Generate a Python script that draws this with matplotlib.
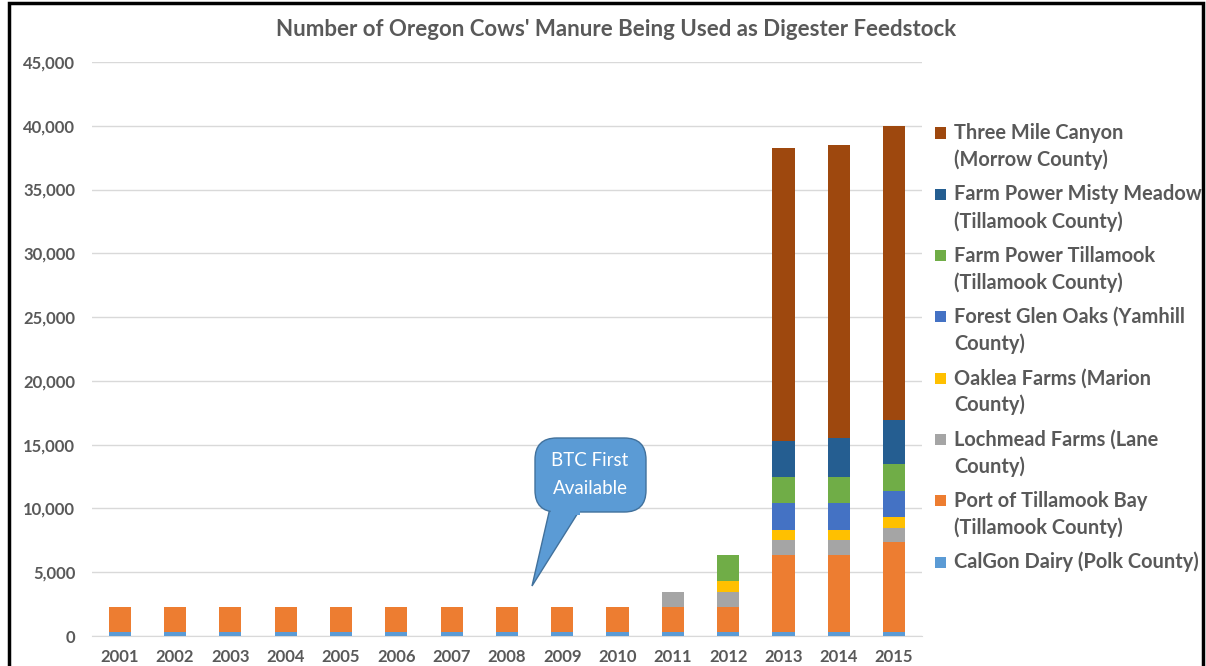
import matplotlib
matplotlib.use("Agg")
import matplotlib.pyplot as plt
from matplotlib.patches import FancyBboxPatch, Polygon, Rectangle
from matplotlib.ticker import FuncFormatter
import numpy as np

plt.rcParams['font.family'] = ['Lato', 'DejaVu Sans']

years = ['2001', '2002', '2003', '2004', '2005', '2006', '2007', '2008',
         '2009', '2010', '2011', '2012', '2013', '2014', '2015']

# cows per digester, bottom of stack first
calgon     = [350, 350, 350, 350, 350, 350, 350, 350, 350, 350, 350, 350, 350, 350, 350]
port       = [1950, 1950, 1950, 1950, 1950, 1950, 1950, 1950, 1950, 1950, 1950, 1950, 6000, 6000, 7000]
lochmead   = [0, 0, 0, 0, 0, 0, 0, 0, 0, 0, 1150, 1150, 1150, 1150, 1150]
oaklea     = [0, 0, 0, 0, 0, 0, 0, 0, 0, 0, 0, 830, 830, 830, 830]
forest     = [0, 0, 0, 0, 0, 0, 0, 0, 0, 0, 0, 0, 2070, 2070, 2070]
fp_till    = [0, 0, 0, 0, 0, 0, 0, 0, 0, 0, 0, 2080, 2080, 2080, 2080]
misty      = [0, 0, 0, 0, 0, 0, 0, 0, 0, 0, 0, 0, 2810, 3020, 3440]
three_mile = [0, 0, 0, 0, 0, 0, 0, 0, 0, 0, 0, 0, 22990, 22970, 23050]

series = [
    ("CalGon Dairy (Polk County)", calgon, "#5B9BD5"),
    ("Port of Tillamook Bay\n(Tillamook County)", port, "#ED7D31"),
    ("Lochmead Farms (Lane\nCounty)", lochmead, "#A5A5A5"),
    ("Oaklea Farms (Marion\nCounty)", oaklea, "#FFC000"),
    ("Forest Glen Oaks (Yamhill\nCounty)", forest, "#4472C4"),
    ("Farm Power Tillamook\n(Tillamook County)", fp_till, "#70AD47"),
    ("Farm Power Misty Meadow\n(Tillamook County)", misty, "#255E91"),
    ("Three Mile Canyon\n(Morrow County)", three_mile, "#9E480E"),
]

grey = "#595959"
W, H = 1206, 666

def fp(px, py):
    # figure fraction from pixel position (top-left origin)
    return (px / W, 1 - py / H)

fig = plt.figure(figsize=(W / 100, H / 100), dpi=100)
ax = fig.add_axes([0.0763, 0.045, 0.688, 0.862])

x = np.arange(len(years))
bottom = np.zeros(len(years))
for label, vals, color in series:
    vals = np.array(vals, dtype=float)
    ax.bar(x, vals, bottom=bottom, width=0.4, color=color, label=label, zorder=3)
    bottom += vals

ax.set_xlim(-0.5, len(years) - 0.5)
ax.set_ylim(0, 45000)
ax.set_yticks(np.arange(0, 45001, 5000))
ax.yaxis.set_major_formatter(FuncFormatter(lambda v, p: f"{int(v):,}"))
ax.set_xticks(x)
ax.set_xticklabels(years)
ax.grid(axis='y', color='#D9D9D9', linewidth=1, zorder=0)
for s in ['top', 'right', 'left']:
    ax.spines[s].set_visible(False)
ax.spines['bottom'].set_color('#D9D9D9')
ax.tick_params(axis='both', length=0, labelcolor=grey, labelsize=12)
ax.tick_params(axis='y', pad=12)
ax.tick_params(axis='x', pad=9)
for t in ax.get_xticklabels() + ax.get_yticklabels():
    t.set_fontweight('bold')

fig.text(*fp(616, 30), "Number of Oregon Cows' Manure Being Used as Digester Feedstock",
         ha='center', va='center', fontsize=16, fontweight='bold', color=grey)

# legend, top entry = top of stack
entry_y = 133
for label, vals, color in series[::-1]:
    sx, sy = fp(935, entry_y + 5.5)
    fig.add_artist(Rectangle((sx, sy), 11 / W, 11 / H, transform=fig.transFigure,
                             facecolor=color, edgecolor='none'))
    for i, line in enumerate(label.split("\n")):
        fig.text(*fp(954, entry_y + 27 * i), line, ha='left', va='center',
                 fontsize=14.4, fontweight='bold', color=grey)
    entry_y += 61.3

# callout "BTC First Available"
tail = Polygon([fp(550, 508), fp(532, 586), fp(581, 508)], closed=True,
               transform=fig.transFigure, facecolor="#5B9BD5", edgecolor="#41719C",
               linewidth=1, zorder=5)
fig.add_artist(tail)
bx0, by0 = fp(535, 512)
bx1, by1 = fp(646, 438)
box = FancyBboxPatch((bx0, by0), bx1 - bx0, by1 - by0,
                     boxstyle="round,pad=0,rounding_size=0.018",
                     transform=fig.transFigure, facecolor="#5B9BD5",
                     edgecolor="#41719C", linewidth=1, zorder=6,
                     mutation_aspect=W / H)
fig.add_artist(box)
seam = Polygon([fp(551, 510), fp(550, 515), fp(580, 515), fp(580, 510)], closed=True,
               transform=fig.transFigure, facecolor="#5B9BD5", edgecolor='none', zorder=7)
fig.add_artist(seam)
fig.text(*fp(590, 461), "BTC First", ha='center', va='center',
         color='white', fontsize=13.5, zorder=8)
fig.text(*fp(590, 488), "Available", ha='center', va='center',
         color='white', fontsize=13.5, zorder=8)

# outer black frame
frame = Rectangle(fp(9, 700), (1203 - 9) / W, (700 - 3) / H, transform=fig.transFigure,
                  fill=False, edgecolor='black', linewidth=2.5, clip_on=False)
fig.add_artist(frame)

fig.savefig("out.png", dpi=100, facecolor='white')
